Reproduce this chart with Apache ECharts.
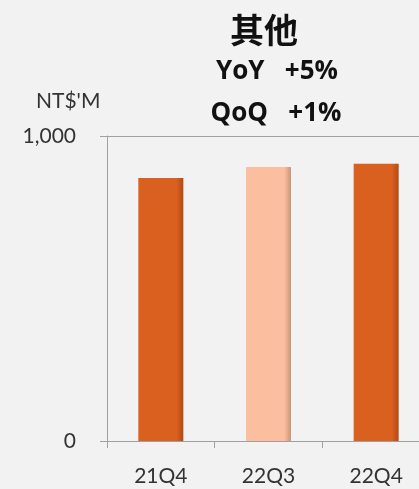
<!DOCTYPE html>
<html><head><meta charset="utf-8">
<script src="https://cdn.jsdelivr.net/npm/echarts@6/dist/echarts.min.js"></script>
<style>html,body{margin:0;padding:0;background:#F2F2F2;}#c{width:419px;height:489px;}</style>
</head><body><div id="c"></div>
<script>
const categories = ['21Q4', '22Q3', '22Q4'];
const values = [862, 898, 909];
const barColors = ['#D9601F', '#FBBE9E', '#D9601F'];
const darkColors = ['#B24A14', '#C9957A', '#B24A14'];
const titleText = '其他';
const yoyText = 'YoY   +5%';
const qoqText = 'QoQ   +1%';
const unitText = "NT$'M";

function grad(c, dark) {
  return new echarts.graphic.LinearGradient(0, 0, 1, 0, [
    {offset: 0, color: c}, {offset: 0.85, color: c}, {offset: 1, color: dark}
  ]);
}

const chart = echarts.init(document.getElementById('c'));
chart.setOption({
  backgroundColor: '#F2F2F2',
  animation: false,
  graphic: [
    {type: 'text', x: 264, y: 30, style: {text: titleText, align: 'center', verticalAlign: 'middle',
      font: 'bold 34px "Noto Sans CJK TC"', fill: '#111'}},
    {type: 'text', x: 277, y: 72, style: {text: yoyText, align: 'center', verticalAlign: 'middle',
      font: 'bold 26px "Open Sans"', fill: '#111'}},
    {type: 'text', x: 276, y: 114, style: {text: qoqText, align: 'center', verticalAlign: 'middle',
      font: 'bold 26px "Open Sans"', fill: '#111'}},
    {type: 'text', x: 36, y: 101, style: {text: unitText, align: 'left', verticalAlign: 'middle',
      font: '21px Lato', fill: '#333'}}
  ],
  grid: {left: 107, width: 323, top: 136, bottom: 48, outerBoundsMode: 'none'},
  xAxis: {
    type: 'category', data: categories,
    axisLine: {lineStyle: {color: '#A0A0A0', width: 1}},
    axisTick: {show: true, length: 7, lineStyle: {color: '#A0A0A0'}},
    axisLabel: {margin: 25, fontFamily: 'Lato', fontSize: 21, color: '#333'}
  },
  yAxis: {
    type: 'value', min: 0, max: 1000, interval: 1000,
    axisLine: {show: true, lineStyle: {color: '#A0A0A0', width: 1}},
    axisTick: {show: true, length: 7, lineStyle: {color: '#A0A0A0'}},
    splitLine: {show: true, lineStyle: {color: '#A0A0A0', width: 1}},
    axisLabel: {margin: 31, fontFamily: 'Lato', fontSize: 21, color: '#333',
      formatter: v => v.toLocaleString('en-US')}
  },
  series: [{
    type: 'bar', barWidth: 45,
    data: values.map((v, i) => ({value: v, itemStyle: {color: grad(barColors[i], darkColors[i])}}))
  }]
});
</script></body></html>
